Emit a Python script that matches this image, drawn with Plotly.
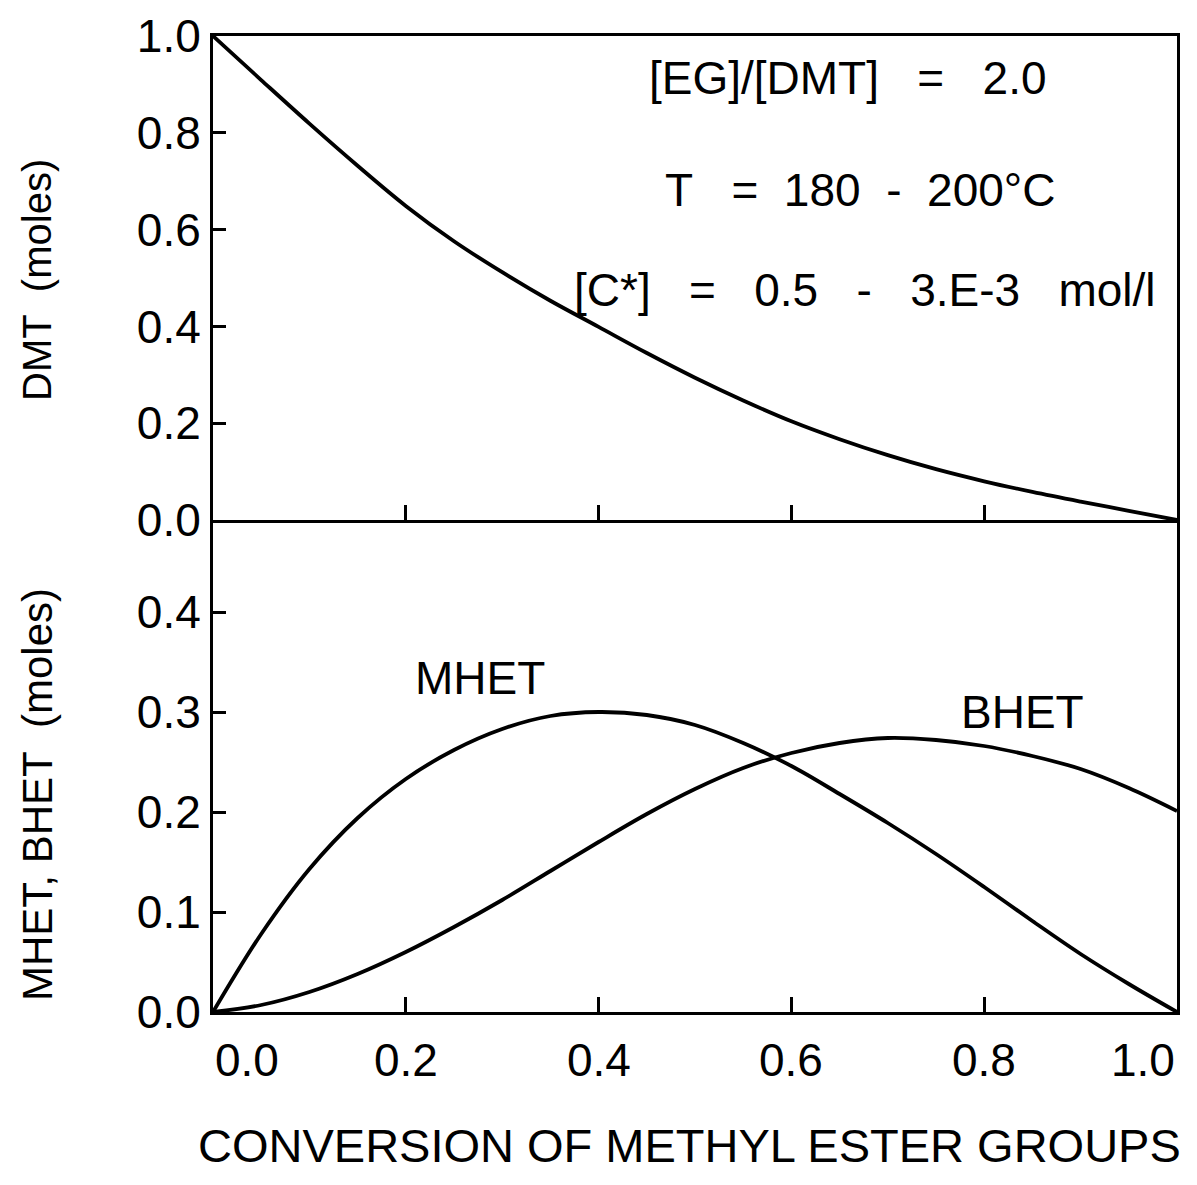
import plotly.graph_objects as go

# ---- data ----
conversion = [0.0, 0.05, 0.10, 0.15, 0.20, 0.25, 0.30, 0.35, 0.40, 0.45, 0.50,
              0.55, 0.60, 0.65, 0.70, 0.75, 0.80, 0.85, 0.90, 0.95, 1.0]
dmt = [1.0, 0.909, 0.819, 0.732, 0.649, 0.576, 0.512, 0.453, 0.399, 0.345, 0.294,
       0.247, 0.204, 0.167, 0.134, 0.105, 0.080, 0.058, 0.038, 0.019, 0.0]
mhet = [0.0, 0.078, 0.143, 0.194, 0.233, 0.262, 0.283, 0.296, 0.300, 0.297, 0.287,
        0.269, 0.246, 0.218, 0.189, 0.158, 0.125, 0.091, 0.058, 0.028, 0.0]
bhet = [0.0, 0.007, 0.020, 0.038, 0.060, 0.085, 0.112, 0.141, 0.170, 0.198, 0.223,
        0.244, 0.259, 0.269, 0.274, 0.272, 0.266, 0.256, 0.243, 0.224, 0.201]

x_tick_vals = [0.0, 0.2, 0.4, 0.6, 0.8, 1.0]
x_tick_text = ["0.0", "0.2", "0.4", "0.6", "0.8", "1.0"]
top_y_ticks = [0.0, 0.2, 0.4, 0.6, 0.8, 1.0]
top_y_text = ["0.0", "0.2", "0.4", "0.6", "0.8", "1.0"]
bot_y_ticks = [0.0, 0.1, 0.2, 0.3, 0.4]
bot_y_text = ["0.0", "0.1", "0.2", "0.3", "0.4"]

NB = "\u00a0"
G3 = NB * 3
G2 = NB * 2
conditions = ["[EG]/[DMT]" + G3 + "=" + G3 + "2.0",
              "T" + G3 + "=" + G2 + "180" + G2 + "-" + G2 + "200°C",
              "[C*]" + G3 + "=" + G3 + "0.5" + G3 + "-" + G3 + "3.E-3" + G3 + "mol/l"]
cond_x = [0.659, 0.671, 0.676]
cond_y = [0.913, 0.682, 0.475]

# ---- styling ----
FONT = "Liberation Sans, Arial, Helvetica, sans-serif"
BLACK = "#000000"
LW = 3.8
W, H = 1189, 1177
ML, MR, MT, MB = 205, 20, 28, 173
plot_h = H - MT - MB
split = (1012 - 520) / plot_h

fig = go.Figure()
line_style = dict(color=BLACK, width=LW, shape="spline", smoothing=1.0)
fig.add_trace(go.Scatter(x=conversion, y=dmt, mode="lines", xaxis="x", yaxis="y",
                         line=line_style, showlegend=False, cliponaxis=False))
fig.add_trace(go.Scatter(x=conversion, y=mhet, mode="lines", xaxis="x2", yaxis="y2",
                         line=line_style, showlegend=False, cliponaxis=False))
fig.add_trace(go.Scatter(x=conversion, y=bhet, mode="lines", xaxis="x2", yaxis="y2",
                         line=line_style, showlegend=False, cliponaxis=False))

common_axis = dict(showline=True, linecolor=BLACK, linewidth=3,
                   ticks="inside", tickcolor=BLACK, tickwidth=2.5,
                   showgrid=False, zeroline=False, automargin=False)

fig.update_layout(
    width=W, height=H,
    margin=dict(l=ML, r=MR, t=MT, b=MB, pad=0, autoexpand=False),
    paper_bgcolor="white", plot_bgcolor="white",
    font=dict(family=FONT, color=BLACK, size=46),
    xaxis=dict(domain=[0, 1], anchor="y", range=[0, 1], tickvals=x_tick_vals[1:-1],
               showticklabels=False, ticklen=15, mirror=True, **common_axis),
    yaxis=dict(domain=[split, 1], anchor="x", range=[0, 1], tickvals=top_y_ticks,
               ticktext=top_y_text, ticklen=13, tickfont=dict(size=46, family=FONT),
               ticklabelstandoff=0, mirror=True, **common_axis),
    xaxis2=dict(domain=[0, 1], anchor="y2", range=[0, 1], tickvals=x_tick_vals[1:-1],
                showticklabels=False, ticklen=15, mirror=False, **common_axis),
    yaxis2=dict(domain=[0, split], anchor="x2", range=[0, 0.492], tickvals=bot_y_ticks,
                ticktext=bot_y_text, ticklen=13, tickfont=dict(size=46, family=FONT),
                ticklabelstandoff=0, mirror=True, **common_axis),
)

annotations = []
# x tick labels (end labels aligned inward as in the reference)
for v, t in zip(x_tick_vals, x_tick_text):
    anchor = "left" if v == x_tick_vals[0] else ("right" if v == x_tick_vals[-1] else "center")
    annotations.append(dict(x=v, y=0, xref="x2", yref="y2 domain", text=t, showarrow=False,
                            xanchor=anchor, yanchor="top", yshift=-20,
                            font=dict(size=46, family=FONT)))
# axis titles
annotations.append(dict(x=0.5, y=0, xref="paper", yref="paper", text="CONVERSION OF METHYL ESTER GROUPS",
                        showarrow=False, xanchor="center", yanchor="middle", yshift=-133,
                        xshift=-6, font=dict(size=47, family=FONT)))
annotations.append(dict(x=0, y=0.5, xref="paper", yref="y domain", text="DMT" + NB + " (moles)",
                        showarrow=False, textangle=-90, xanchor="center", yanchor="middle",
                        xshift=-176, yshift=-2, font=dict(size=40, family=FONT)))
annotations.append(dict(x=0, y=0.5, xref="paper", yref="y2 domain", text="MHET," + NB + "BHET" + NB * 2 + "(moles)",
                        showarrow=False, textangle=-90, xanchor="center", yanchor="middle",
                        xshift=-176, yshift=-29, font=dict(size=42, family=FONT)))
# conditions text
for txt, xv, yv in zip(conditions, cond_x, cond_y):
    annotations.append(dict(x=xv, y=yv, xref="x domain", yref="y", text=txt, showarrow=False,
                            xanchor="center", yanchor="middle", font=dict(size=46, family=FONT)))
# curve labels
annotations.append(dict(x=0.277, y=0.334, xref="x2", yref="y2", text="MHET", showarrow=False,
                        xanchor="center", yanchor="middle", font=dict(size=46, family=FONT)))
annotations.append(dict(x=0.840, y=0.300, xref="x2", yref="y2", text="BHET", showarrow=False,
                        xanchor="center", yanchor="middle", font=dict(size=46, family=FONT)))

fig.update_layout(annotations=annotations)
fig.write_html("out.html")
